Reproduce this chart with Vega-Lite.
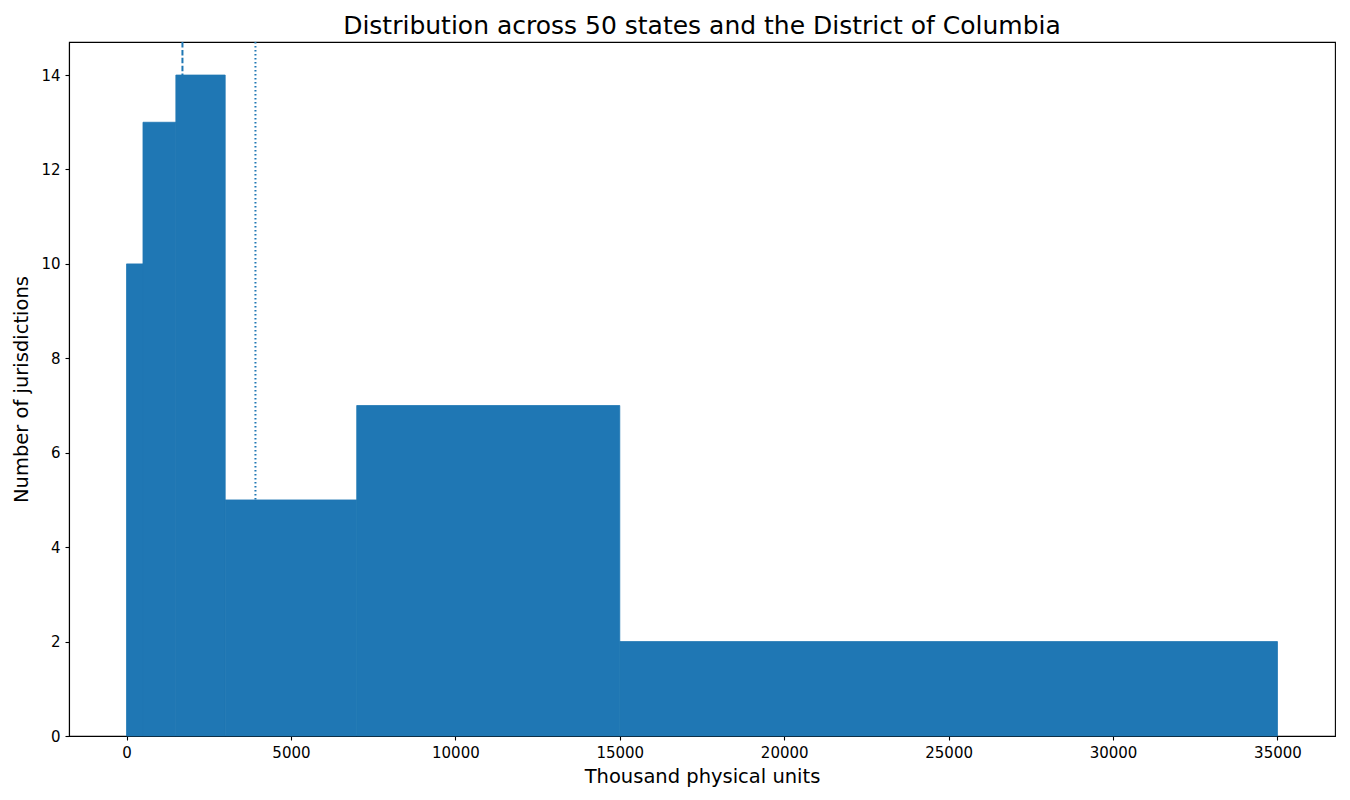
{
  "$schema": "https://vega.github.io/schema/vega-lite/v6.json",
  "autosize": {"type": "none"},
  "padding": {"left": 69, "top": 42, "right": 15, "bottom": 64},
  "width": 1266,
  "height": 694,
  "background": "white",
  "title": {
    "text": "Distribution across 50 states and the District of Columbia",
    "font": "DejaVu Sans",
    "fontSize": 25,
    "fontWeight": "normal",
    "color": "black",
    "anchor": "middle",
    "offset": 2
  },
  "datasets": {
    "bins": [
      {"start": 0, "end": 500, "count": 10},
      {"start": 500, "end": 1500, "count": 13},
      {"start": 1500, "end": 3000, "count": 14},
      {"start": 3000, "end": 7000, "count": 5},
      {"start": 7000, "end": 15000, "count": 7},
      {"start": 15000, "end": 35000, "count": 2}
    ],
    "stats": [
      {"stat": "median", "value": 1700},
      {"stat": "mean", "value": 3920}
    ]
  },
  "layer": [
    {
      "data": {"name": "stats"},
      "transform": [{"filter": "datum.stat === 'median'"}],
      "mark": {"type": "rule", "color": "#1f77b4", "strokeWidth": 2, "strokeDash": [5.5, 2.4]},
      "encoding": {
        "x": {"field": "value", "type": "quantitative"}
      }
    },
    {
      "data": {"name": "stats"},
      "transform": [{"filter": "datum.stat === 'mean'"}],
      "mark": {"type": "rule", "color": "#1f77b4", "strokeWidth": 2, "strokeDash": [1.5, 2.5]},
      "encoding": {
        "x": {"field": "value", "type": "quantitative"}
      }
    },
    {
      "data": {"name": "bins"},
      "mark": {"type": "rect", "color": "#1f77b4", "stroke": "#1f77b4", "strokeWidth": 0.8},
      "encoding": {
        "x": {
          "field": "start",
          "type": "quantitative",
          "title": "Thousand physical units",
          "scale": {"domain": [-1750, 36750], "nice": false, "zero": false},
          "axis": {"values": [0, 5000, 10000, 15000, 20000, 25000, 30000, 35000], "format": "d"}
        },
        "x2": {"field": "end"},
        "y": {
          "field": "count",
          "type": "quantitative",
          "title": "Number of jurisdictions",
          "scale": {"domain": [0, 14.7], "nice": false},
          "axis": {"values": [0, 2, 4, 6, 8, 10, 12, 14]}
        },
        "y2": {"datum": 0}
      }
    }
  ],
  "config": {
    "view": {"stroke": "black", "strokeWidth": 1.1},
    "axis": {
      "grid": false,
      "domainColor": "black",
      "domainWidth": 1.1,
      "tickColor": "black",
      "tickWidth": 1.1,
      "tickSize": 4,
      "labelPadding": 5,
      "labelColor": "black",
      "labelFont": "DejaVu Sans",
      "labelFontSize": 15,
      "titleFont": "DejaVu Sans",
      "titleFontSize": 19.5,
      "titleFontWeight": "normal",
      "titleColor": "black"
    },
    "axisX": {"titlePadding": 7},
    "axisY": {"titlePadding": 9}
  }
}
